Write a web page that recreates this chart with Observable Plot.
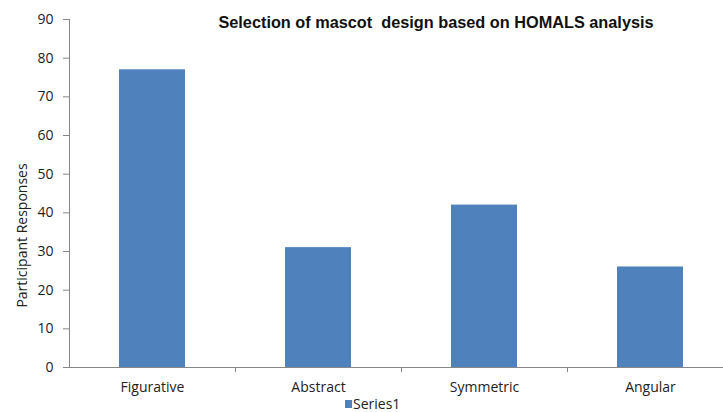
<!DOCTYPE html>
<html>
<head>
<meta charset="utf-8">
<script src="https://cdn.jsdelivr.net/npm/d3@7"></script>
<script src="https://cdn.jsdelivr.net/npm/@observablehq/plot@0.6"></script>
<style>
  html, body { margin: 0; padding: 0; background: #fff; }
  #wrap { position: relative; width: 723px; height: 412px; overflow: hidden; }
  #title {
    position: absolute; left: 0; width: 872px; top: 13px; text-align: center;
    font: bold 16.3px "Liberation Sans", Arial, sans-serif; color: #111; white-space: pre;
  }
  #legend {
    position: absolute; left: 345px; top: 394px;
    font: 14px "Open Sans", sans-serif; color: #222; display: flex; align-items: center;
  }
  #legend span.sw { display: inline-block; width: 7px; height: 8px; background: #4f81bd; margin-right: 1px; }
</style>
</head>
<body>
<div id="wrap">
  <div id="chart"></div>
  <div id="title">Selection of mascot  design based on HOMALS analysis</div>
  <div id="legend"><span class="sw"></span>Series1</div>
</div>
<script>
const categories = ["Figurative", "Abstract", "Symmetric", "Angular"];
const responses = [77, 31, 42, 26];
const yTicks = [0, 10, 20, 30, 40, 50, 60, 70, 80, 90];
const yLabel = "Participant Responses";

const data = categories.map((c, i) => ({category: c, value: responses[i]}));

const left = 69, band = 166;
const xRange = [left, left + band * categories.length];

const chart = Plot.plot({
  width: 723,
  height: 412,
  marginTop: 19,
  marginBottom: 45,
  marginLeft: left,
  marginRight: 0,
  style: {fontFamily: "'Open Sans', sans-serif", fontSize: "13px", color: "#222", background: "#fff"},
  x: {domain: categories, range: xRange, paddingInner: 0.6, paddingOuter: 0.3, align: 0.5},
  y: {domain: [0, 90], ticks: yTicks},
  marks: [
    Plot.barY(data, {x: "category", y: "value", fill: "#4f81bd"}),
    Plot.frame({anchor: "left", stroke: "#868686"}),
    Plot.ruleY([0], {stroke: "#868686", strokeWidth: 1}),
    // short ticks on the x axis between neighbouring categories
    Plot.ruleX(categories.slice(1), {x: d => d, dx: -band / 2, y1: 0, y2: 0, insetBottom: -5, stroke: "#868686"}),
    Plot.axisY({ticks: yTicks, tickSize: 6, tickPadding: 10, stroke: "#868686", fontSize: 14, label: null}),
    Plot.axisX({tickSize: 0, tickPadding: 15, fontSize: 14, label: null}),
    Plot.text([yLabel], {text: d => d, frameAnchor: "left", textAnchor: "middle", dx: -47, dy: 42, rotate: -90, fontSize: 14, fill: "#222"})
  ]
});
document.getElementById("chart").appendChild(chart);
</script>
</body>
</html>
